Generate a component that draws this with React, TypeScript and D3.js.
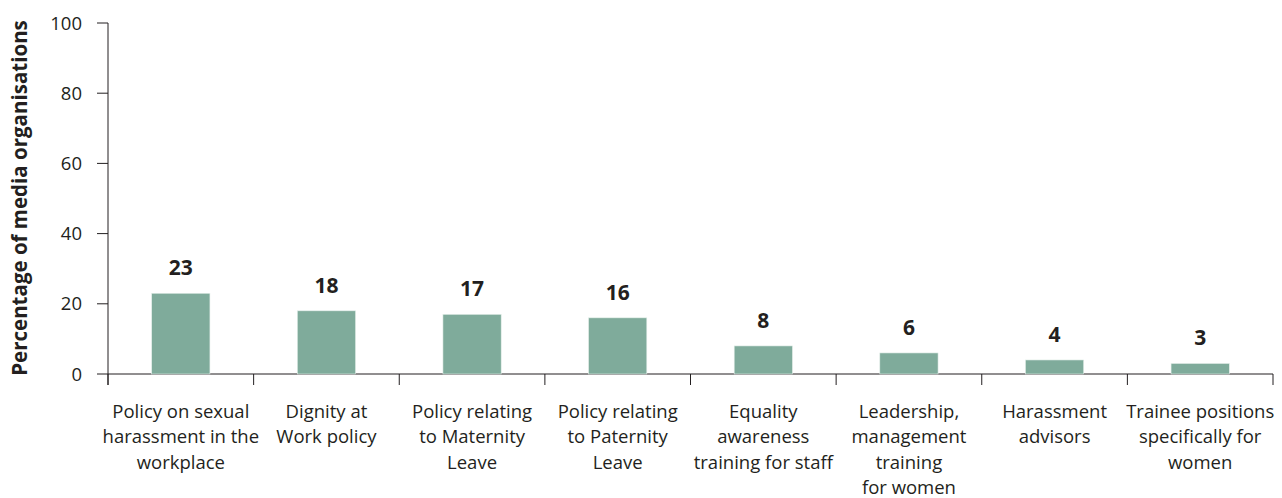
import React from "react";
import * as d3 from "d3";

const categories: string[][] = [
  ["Policy on sexual", "harassment in the", "workplace"],
  ["Dignity at", "Work policy"],
  ["Policy relating", "to Maternity", "Leave"],
  ["Policy relating", "to Paternity", "Leave"],
  ["Equality", "awareness", "training for staff"],
  ["Leadership,", "management", "training", "for women"],
  ["Harassment", "advisors"],
  ["Trainee positions", "specifically for", "women"],
];
const values: number[] = [23, 18, 17, 16, 8, 6, 4, 3];
const yTicks: number[] = [0, 20, 40, 60, 80, 100];
const yTitle = "Percentage of media organisations";

const W = 1282;
const H = 498;
const left = 108;
const right = 1273;
const top = 23;
const bottom = 374;
const font = "'Open Sans', 'Liberation Sans', sans-serif";
const textColor = "#231f20";

export default function App() {
  const keys = categories.map((_, i) => String(i));
  const x = d3.scaleBand<string>().domain(keys).range([left, right]).paddingInner(0.6).paddingOuter(0.3);
  const y = d3.scaleLinear().domain([0, 100]).range([bottom, top]);
  const step = x.step();
  const boundaries = d3.range(categories.length + 1).map((i) => left + i * step);

  return (
    <svg width={W} height={H} style={{ position: "absolute", left: 0, top: 0, background: "#fff" }} fontFamily={font}>
      {/* y axis */}
      <line x1={left} x2={left} y1={top} y2={bottom + 11} stroke={textColor} strokeWidth={1} />
      {yTicks.map((t) => (
        <g key={t}>
          <line x1={left - 11} x2={left} y1={y(t)} y2={y(t)} stroke={textColor} strokeWidth={1} />
          <text x={left - 26} y={y(t)} dy="0.36em" textAnchor="end" fontSize={18.5} fill={textColor}>
            {t}
          </text>
        </g>
      ))}
      {/* x axis */}
      <line x1={left} x2={right} y1={bottom} y2={bottom} stroke={textColor} strokeWidth={1} />
      {boundaries.map((bx, i) => (
        <line key={i} x1={bx} x2={bx} y1={bottom} y2={bottom + 11} stroke={textColor} strokeWidth={1} />
      ))}
      {/* bars */}
      {values.map((v, i) => (
        <g key={i}>
          <rect x={x(String(i))} y={y(v)} width={x.bandwidth()} height={bottom - y(v)} fill="#7fab9b" stroke="#e4efea" strokeWidth={0.6} />
          <text
            x={(x(String(i)) as number) + x.bandwidth() / 2}
            y={y(v) - 18}
            textAnchor="middle"
            fontSize={21}
            fontWeight="bold"
            fill={textColor}
          >
            {v}
          </text>
        </g>
      ))}
      {/* category labels */}
      {categories.map((lines, i) => (
        <text key={i} textAnchor="middle" fontSize={18.5} fill={textColor}>
          {lines.map((ln, j) => (
            <tspan key={j} x={(x(String(i)) as number) + x.bandwidth() / 2} y={418 + j * 25.3}>
              {ln}
            </tspan>
          ))}
        </text>
      ))}
      {/* y title */}
      <text
        transform={`translate(27, 198) rotate(-90)`}
        textAnchor="middle"
        fontSize={20.5}
        fontWeight="bold"
        fill={textColor}
      >
        {yTitle}
      </text>
    </svg>
  );
}
